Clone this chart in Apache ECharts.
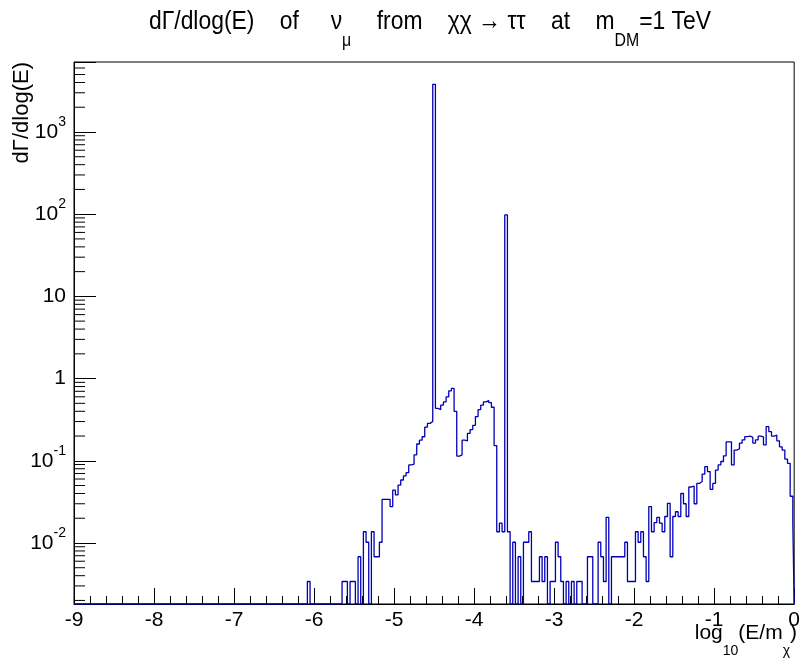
<!DOCTYPE html>
<html>
<head>
<meta charset="utf-8">
<script src="https://cdn.jsdelivr.net/npm/echarts@6/dist/echarts.min.js"></script>
<style>
  html, body { margin: 0; padding: 0; background: #fff; }
  #chart { width: 803px; height: 664px; }
</style>
</head>
<body>
<div id="chart"></div>
<script>
// histogram bins are 1/30 wide in log10(E/m), centred on multiples of 1/30
const binWidth = 1 / 30;
const firstCenter = -9 + 88 / 30; // first filled bin, -6.067
// dGamma/dlog(E) per bin, from firstCenter up to 0 (0 = empty bin)
const binValues = [
  0.0034, 0, 0, 0, 0, 0, 0, 0, 0, 0,
  0, 0, 0, 0.0034, 0.0034, 0, 0.0034, 0.0034, 0, 0.0068,
  0, 0.0137, 0.0102, 0, 0.0137, 0.0068, 0.0068, 0.0102, 0.034, 0.034,
  0.034, 0.0277, 0.044, 0.0384, 0.0507, 0.0584, 0.0654, 0.0716, 0.089, 0.091,
  0.118, 0.16, 0.178, 0.196, 0.256, 0.285, 0.30, 3800, 0.435, 0.42,
  0.476, 0.52, 0.60, 0.71, 0.76, 0.40, 0.114, 0.118, 0.178, 0.175,
  0.216, 0.24, 0.27, 0.345, 0.42, 0.476, 0.52, 0.54, 0.51, 0.448,
  0.153, 0.0137, 0.0174, 0.0137, 98, 0.0137, 0, 0.0102, 0, 0.0068,
  0, 0.0102, 0.0102, 0.0137, 0.0034, 0.0034, 0.0034, 0.0068, 0.0034, 0.0068,
  0, 0.0034, 0.0034, 0.0102, 0.0068, 0.0034, 0, 0.0034, 0, 0.0034,
  0, 0.0034, 0.0034, 0, 0, 0.0068, 0.0068, 0, 0, 0.0102,
  0.0068, 0.0034, 0.0205, 0, 0.0068, 0.0068, 0.0068, 0.0068, 0.0068, 0.0102,
  0.0034, 0.0034, 0.0034, 0.0137, 0.0102, 0.0137, 0.0068, 0.0034, 0.0277, 0.0137,
  0.0177, 0.0205, 0.0174, 0.0137, 0.021, 0.0304, 0.0068, 0.021, 0.024, 0.021,
  0.04, 0.03, 0.021, 0.048, 0.049, 0.03, 0.053, 0.056, 0.069, 0.085,
  0.074, 0.045, 0.053, 0.077, 0.089, 0.098, 0.115, 0.17, 0.17, 0.089,
  0.135, 0.14, 0.164, 0.18, 0.197, 0.2, 0.193, 0.164, 0.18, 0.2,
  0.195, 0.156, 0.26, 0.226, 0.2, 0.205, 0.175, 0.148, 0.135, 0.105,
  0.093, 0.037, 0.0174
];

const xMin = -9, xMax = 0;
const yMin = 0.00181, yMax = 7100;
// minor ticks of the log axis: 2..9 x 10^n
const yMinorMant = [2, 3, 4, 5, 6, 7, 8, 9];
const yDecades = [-3, -2, -1, 0, 1, 2, 3];

const font = '"Liberation Sans", Arial, sans-serif';

// step outline: left edge of each bin, empty bins sit on the floor
const points = [[xMin, yMin]];
binValues.forEach((v, i) => {
  const left = firstCenter + i * binWidth - binWidth / 2;
  points.push([left, v > 0 ? v : yMin]);
});
points.push([xMax, yMin]);

const minorTicks = [];
yDecades.forEach(d => {
  yMinorMant.forEach(m => {
    const v = m * Math.pow(10, d);
    if (v > yMin && v < yMax) minorTicks.push([xMin, v]);
  });
});

const chart = echarts.init(document.getElementById('chart'));

const option = {
  backgroundColor: '#fff',
  animation: false,
  grid: {
    left: 74, right: 6, top: 62, bottom: 60,
    show: true, borderColor: '#000', borderWidth: 1, backgroundColor: 'transparent'
  },
  xAxis: {
    type: 'value',
    min: xMin, max: xMax, interval: 1,
    axisLine: { onZero: false, lineStyle: { color: '#000', width: 1 } },
    axisTick: { inside: true, length: 16, lineStyle: { color: '#000' } },
    minorTick: { show: true, splitNumber: 5, length: 8, lineStyle: { color: '#000' } },
    splitLine: { show: false },
    axisLabel: { color: '#000', fontFamily: font, fontSize: 21, margin: 6 }
  },
  yAxis: {
    type: 'log',
    min: yMin, max: yMax,
    axisLine: { onZero: false, lineStyle: { color: '#000', width: 1 } },
    axisTick: { inside: true, length: 22, lineStyle: { color: '#000' } },
    splitLine: { show: false },
    axisLabel: {
      color: '#000', fontFamily: font, fontSize: 21, margin: 8,
      formatter: function (value) {
        const e = Math.log10(value);
        const n = Math.round(e);
        if (Math.abs(e - n) > 1e-6) return '';
        if (n === 0) return '1';
        if (n === 1) return '10';
        return '{b|10}{p|' + n + '}';
      },
      rich: {
        b: { fontFamily: font, fontSize: 21, color: '#000' },
        p: { fontFamily: font, fontSize: 14, color: '#000', padding: [0, 0, 20, 0] }
      }
    }
  },
  graphic: [
    {
      // ROOT draws the title a little condensed
      type: 'text', x: 430, y: 22, scaleX: 0.88,
      style: {
        text: 'dΓ/dlog(E)    of     ν{s|μ}    from    χχ → ττ    at    m{s|DM}=1 TeV',
        fontFamily: font, fontSize: 26, fill: '#000',
        align: 'center', verticalAlign: 'middle',
        rich: { s: { fontFamily: font, fontSize: 18, fill: '#000', padding: [38, 0, 0, 0] } }
      }
    },
    {
      type: 'text', x: 797, y: 633,
      style: {
        text: 'log{s|10}(E/m{s|χ})',
        fontFamily: font, fontSize: 21, fill: '#000',
        align: 'right', verticalAlign: 'middle',
        rich: { s: { fontFamily: font, fontSize: 14, fill: '#000', padding: [36, 0, 0, 0] } }
      }
    },
    {
      type: 'text', x: 22, y: 62, rotation: Math.PI / 2,
      style: {
        text: 'dΓ/dlog(E)',
        fontFamily: font, fontSize: 22, fill: '#000',
        align: 'right', verticalAlign: 'middle'
      }
    }
  ],
  series: [
    {
      type: 'line',
      step: 'end',
      data: points,
      symbol: 'none',
      clip: true,
      lineStyle: { color: '#0000b4', width: 1.3 }
    },
    {
      type: 'custom',
      silent: true,
      data: minorTicks,
      renderItem: function (params, api) {
        const p = api.coord([api.value(0), api.value(1)]);
        return {
          type: 'line',
          shape: { x1: p[0], y1: p[1], x2: p[0] + 11, y2: p[1] },
          style: { stroke: '#000', lineWidth: 1 }
        };
      }
    }
  ]
};

chart.setOption(option);
</script>
</body>
</html>
